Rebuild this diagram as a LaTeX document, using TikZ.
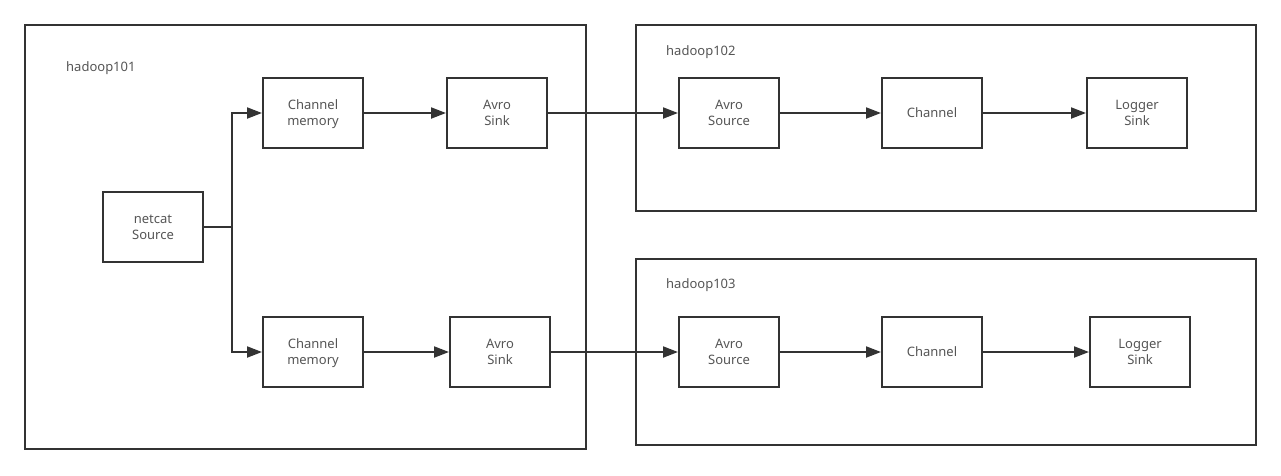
\documentclass[tikz,border=0pt]{standalone}
\usepackage{fontspec}
\setmainfont{Noto Sans}
\usetikzlibrary{arrows.meta}
\definecolor{ln}{HTML}{333333}
\definecolor{tx}{HTML}{555555}
\begin{document}
\begin{tikzpicture}[x=1pt,y=-1pt,
  comp/.style={draw=ln,line width=2pt,minimum width=100pt,minimum height=70pt,inner sep=0pt,
    align=center,font=\fontsize{13}{16}\selectfont,text=tx,text depth=0pt},
  host/.style={draw=ln,line width=2pt},
  hostlabel/.style={anchor=west,inner sep=0pt,font=\fontsize{13}{16}\selectfont,text=tx},
  flow/.style={draw=ln,line width=2pt,-{Triangle[length=15pt,width=11pt]}},
  wire/.style={draw=ln,line width=2pt}]
\useasboundingbox (0,0) rectangle (1281,475);
% hosts
\draw[host] (25,25) rectangle (586,449);
\draw[host] (636,25) rectangle (1256,211);
\draw[host] (636,259) rectangle (1256,445);
\node[hostlabel] (l101) at (66,68) {hadoop101};
\node[hostlabel] (l102) at (666,52) {hadoop102};
\node[hostlabel] (l103) at (666,285) {hadoop103};
% components
\node[comp] (nc) at (153,227) {netcat\\Source};
\node[comp] (cm1) at (313,113) {Channel\\memory};
\node[comp] (as1) at (497,113) {Avro\\Sink};
\node[comp] (src1) at (729,113) {Avro\\Source};
\node[comp] (ch1) at (932,113) {Channel};
\node[comp] (ls1) at (1137,113) {Logger\\Sink};
\node[comp] (cm2) at (313,352) {Channel\\memory};
\node[comp] (as2) at (500,352) {Avro\\Sink};
\node[comp] (src2) at (729,352) {Avro\\Source};
\node[comp] (ch2) at (932,352) {Channel};
\node[comp] (ls2) at (1140,352) {Logger\\Sink};
% junction
\coordinate (j) at (232,227);
\draw[wire] (nc.east) -- (j);
\draw[flow] (j) |- (cm1.west);
\draw[flow] (j) |- (cm2.west);
\draw[flow] (cm1) -- (as1);
\draw[flow] (as1) -- (src1);
\draw[flow] (src1) -- (ch1);
\draw[flow] (ch1) -- (ls1);
\draw[flow] (cm2) -- (as2);
\draw[flow] (as2) -- (src2);
\draw[flow] (src2) -- (ch2);
\draw[flow] (ch2) -- (ls2);
\end{tikzpicture}
\end{document}
